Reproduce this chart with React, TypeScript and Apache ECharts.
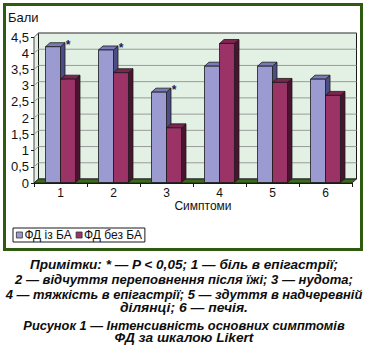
import React, { useEffect, useRef } from 'react';
import * as echarts from 'echarts';

const categories = ['1', '2', '3', '4', '5', '6'];
const seriesNames = ['ФД із БА', 'ФД без БА'];
const withBA = [4.2, 4.1, 2.8, 3.6, 3.6, 3.2];
const withoutBA = [3.2, 3.4, 1.7, 4.3, 3.1, 2.7];
const significance = ['*', '*', '*', '', '', ''];
const yTicks = [0, 0.5, 1, 1.5, 2, 2.5, 3, 3.5, 4, 4.5];
const yAxisTitle = 'Бали';
const xAxisTitle = 'Симптоми';
const noteLines = [
  'Примітки: * — P < 0,05; 1 — біль в епігастрії;',
  '2 — відчуття переповнення після їжі; 3 — нудота;',
  '4 — тяжкість в епігастрії; 5 — здуття в надчеревній',
  'ділянці; 6 — печія.',
];
const captionLines = [
  'Рисунок 1 — Інтенсивність основних симптомів',
  'ФД за шкалою Likert',
];

// layout of the text block under the chart (centre y, target width)
const noteLayout = [
  { y: 265, w: 309 },
  { y: 280, w: 338 },
  { y: 294, w: 357 },
  { y: 308, w: 128 },
];
const captionLayout = [
  { y: 325, w: 322 },
  { y: 338, w: 139 },
];

const FONT = "'Liberation Sans', Arial, sans-serif";
const DX = 4.5;
const DY = 4;
const WALL = '#e3f0e4';
const GRID = '#9a9a9a';
const FLOOR = '#3a6a1a';
const EDGE = '#1a1a1a';
const BLUE = { front: '#9b9bd2', top: '#7a7abb', side: '#4d4d86' };
const RED = { front: '#9b3366', top: '#7c2550', side: '#4a1430' };

function decorRender(params: any, api: any) {
  const cs = params.coordSys;
  const x0 = cs.x;
  const x1 = cs.x + cs.width;
  const yt = cs.y;
  const yb = cs.y + cs.height;
  const children: any[] = [];
  children.push({
    type: 'polygon',
    shape: { points: [[x0, yb], [x0, yt], [x0 + DX, yt - DY], [x0 + DX, yb - DY]] },
    style: { fill: WALL, stroke: EDGE, lineWidth: 0.8 },
  });
  children.push({
    type: 'rect',
    shape: { x: x0 + DX, y: yt - DY, width: cs.width, height: cs.height },
    style: { fill: WALL, stroke: EDGE, lineWidth: 1 },
  });
  yTicks.forEach((v) => {
    if (v <= 0) return;
    const y = api.coord([0, v])[1];
    children.push({
      type: 'polyline',
      shape: { points: [[x0, y], [x0 + DX, y - DY], [x1 + DX, y - DY]] },
      style: { fill: null, stroke: GRID, lineWidth: 1 },
    });
  });
  children.push({
    type: 'polygon',
    shape: { points: [[x0, yb], [x1, yb], [x1 + DX, yb - DY], [x0 + DX, yb - DY]] },
    style: { fill: FLOOR, stroke: EDGE, lineWidth: 0.8 },
  });
  return { type: 'group', children };
}

function makeBarRender(sIdx: number, col: { front: string; top: string; side: string }) {
  return (params: any, api: any) => {
    const i = api.value(0);
    const v = api.value(1);
    const base = api.coord([i, 0]);
    const top = api.coord([i, v]);
    const band = api.size([1, 0])[0];
    const w = band * 0.283;
    const xl = sIdx === 0 ? base[0] - w : base[0];
    const xr = xl + w;
    const yb = base[1] - 0.5;
    const yt = top[1];
    const children: any[] = [
      {
        type: 'polygon',
        shape: { points: [[xr, yt], [xr + DX, yt - DY], [xr + DX, yb - DY], [xr, yb]] },
        style: { fill: col.side, stroke: EDGE, lineWidth: 0.8 },
      },
      {
        type: 'polygon',
        shape: { points: [[xl, yt], [xr, yt], [xr + DX, yt - DY], [xl + DX, yt - DY]] },
        style: { fill: col.top, stroke: EDGE, lineWidth: 0.8 },
      },
      {
        type: 'rect',
        shape: { x: xl, y: yt, width: w, height: yb - yt },
        style: { fill: col.front, stroke: EDGE, lineWidth: 0.8 },
      },
    ];
    if (sIdx === 0 && significance[i]) {
      children.push({
        type: 'text',
        style: {
          text: significance[i],
          x: xr + DX + 3,
          y: yt - DY + 2,
          fill: '#1c1c55',
          font: `bold 12px ${FONT}`,
          align: 'center',
          verticalAlign: 'middle',
        },
      });
    }
    return { type: 'group', children };
  };
}

function measure(text: string, font: string): number {
  const ctx = document.createElement('canvas').getContext('2d');
  if (!ctx) return text.length * 6;
  ctx.font = font;
  return ctx.measureText(text).width;
}

export default function App() {
  const ref = useRef<HTMLDivElement>(null);
  useEffect(() => {
    document.body.style.margin = '0';
    if (!ref.current) return;
    const chart = echarts.init(ref.current, null, { renderer: 'svg' });
    const noteFont = `italic bold 13px ${FONT}`;
    const fitted = (t: string, y: number, w: number) => {
      const mw = measure(t, noteFont);
      return {
        type: 'text',
        x: 184,
        y,
        scaleX: mw > 0 ? w / mw : 1,
        style: {
          text: t,
          fill: '#0d0d0d',
          font: noteFont,
          align: 'center',
          verticalAlign: 'middle',
        },
      };
    };
    chart.setOption({
      animation: false,
      backgroundColor: '#ffffff',
      textStyle: { fontFamily: FONT },
      grid: { left: 34, top: 37, width: 318, height: 146, containLabel: false },
      xAxis: {
        type: 'category',
        data: categories,
        axisLine: { show: true, lineStyle: { color: EDGE, width: 1 } },
        axisTick: { show: true, length: 4, lineStyle: { color: EDGE } },
        axisLabel: { color: '#111', fontSize: 12, margin: 4, fontFamily: FONT },
        name: xAxisTitle,
        nameLocation: 'middle',
        nameGap: 16,
        nameTextStyle: { color: '#111', fontSize: 12, fontFamily: FONT, padding: [0, 0, 0, 20] },
        splitLine: { show: false },
      },
      yAxis: {
        type: 'value',
        min: 0,
        max: 4.5,
        interval: 0.5,
        axisLine: { show: true, lineStyle: { color: EDGE, width: 1 } },
        axisTick: { show: true, length: 3, lineStyle: { color: EDGE } },
        axisLabel: {
          color: '#111',
          fontSize: 13,
          margin: 5,
          fontFamily: FONT,
          formatter: (v: number) => String(v).replace('.', ','),
        },
        splitLine: { show: false },
      },
      legend: {
        left: 13,
        top: 228,
        orient: 'horizontal',
        icon: 'rect',
        itemWidth: 6,
        itemHeight: 6,
        itemGap: 4,
        padding: [1, 3, 1, 3],
        borderColor: EDGE,
        borderWidth: 1,
        backgroundColor: '#fff',
        itemStyle: { borderColor: '#333', borderWidth: 0.8 },
        textStyle: { color: '#111', fontSize: 12, fontFamily: FONT, padding: [0, 0, 0, -3] },
        data: seriesNames,
      },
      graphic: [
        {
          type: 'rect',
          shape: { x: 4.5, y: 4.5, width: 357, height: 245 },
          style: { fill: 'none', stroke: '#2f5a12', lineWidth: 3 },
          z: 100,
        },
        {
          type: 'text',
          left: 8,
          top: 11,
          style: { text: yAxisTitle, fill: '#111', font: `13px ${FONT}` },
        },
        ...noteLines.map((t, k) => fitted(t, noteLayout[k].y, noteLayout[k].w)),
        ...captionLines.map((t, k) => fitted(t, captionLayout[k].y, captionLayout[k].w)),
      ],
      series: [
        {
          type: 'custom',
          name: 'decor',
          renderItem: decorRender,
          data: [[0, 0]],
          silent: true,
          z: 1,
        },
        {
          type: 'custom',
          name: seriesNames[0],
          renderItem: makeBarRender(0, BLUE),
          itemStyle: { color: BLUE.front },
          encode: { x: 0, y: 1 },
          data: withBA.map((v, i) => [i, v]),
          z: 2,
        },
        {
          type: 'custom',
          name: seriesNames[1],
          renderItem: makeBarRender(1, RED),
          itemStyle: { color: RED.front },
          encode: { x: 0, y: 1 },
          data: withoutBA.map((v, i) => [i, v]),
          z: 3,
        },
      ],
    });
    return () => chart.dispose();
  }, []);
  return <div ref={ref} style={{ width: 367, height: 353 }} />;
}
